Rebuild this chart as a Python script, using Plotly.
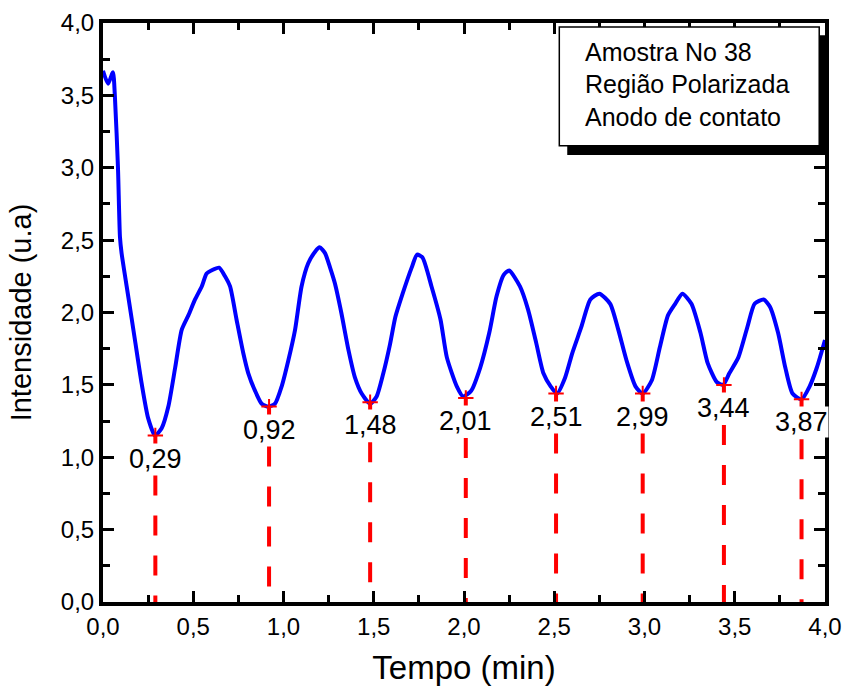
import plotly.graph_objects as go

# Blue intensity curve
tempo = [0.0, 0.028, 0.055, 0.066, 0.083, 0.094, 0.103, 0.14, 0.177, 0.214, 0.25, 0.288,
         0.325, 0.362, 0.40, 0.436, 0.473, 0.51, 0.547, 0.574, 0.60, 0.643, 0.676, 0.704,
         0.74, 0.777, 0.805, 0.842, 0.879, 0.916, 0.953, 0.99, 1.027, 1.064, 1.10, 1.137,
         1.175, 1.20, 1.23, 1.258, 1.285, 1.32, 1.36, 1.396, 1.433, 1.48, 1.516, 1.553,
         1.59, 1.62, 1.66, 1.71, 1.74, 1.77, 1.82, 1.87, 1.905, 1.96, 1.995, 2.04, 2.09,
         2.14, 2.18, 2.22, 2.25, 2.31, 2.355, 2.40, 2.44, 2.48, 2.515, 2.56, 2.60, 2.65,
         2.70, 2.75, 2.81, 2.855, 2.90, 2.95, 2.99, 3.04, 3.085, 3.13, 3.17, 3.21, 3.26,
         3.31, 3.35, 3.40, 3.435, 3.47, 3.52, 3.57, 3.61, 3.66, 3.695, 3.74, 3.78, 3.82,
         3.87, 3.915, 3.955, 4.0]
intensidade = [3.67, 3.58, 3.66, 3.49, 3.0, 2.52, 2.41, 2.11, 1.81, 1.51, 1.27, 1.15,
               1.20, 1.35, 1.62, 1.88, 1.98, 2.09, 2.18, 2.27, 2.29, 2.31, 2.25, 2.18,
               1.95, 1.72, 1.58, 1.46, 1.37, 1.35, 1.37, 1.49, 1.67, 1.88, 2.18, 2.34,
               2.42, 2.45, 2.41, 2.31, 2.20, 2.00, 1.74, 1.55, 1.44, 1.37, 1.42, 1.58,
               1.78, 1.97, 2.13, 2.31, 2.40, 2.38, 2.18, 1.95, 1.69, 1.49, 1.42, 1.46, 1.62,
               1.86, 2.11, 2.26, 2.29, 2.18, 2.02, 1.79, 1.58, 1.49, 1.44, 1.55, 1.72, 1.90,
               2.09, 2.13, 2.06, 1.88, 1.67, 1.49, 1.44, 1.53, 1.76, 1.98, 2.06, 2.13, 2.06,
               1.86, 1.65, 1.52, 1.50, 1.58, 1.69, 1.90, 2.06, 2.09, 2.04, 1.86, 1.62, 1.44,
               1.40, 1.49, 1.62, 1.81]

# Minima marked with red dashed lines
min_tempo = [0.29, 0.92, 1.48, 2.01, 2.51, 2.99, 3.44, 3.87]
min_intens = [1.15, 1.35, 1.38, 1.41, 1.44, 1.44, 1.50, 1.40]
min_labels = ["0,29", "0,92", "1,48", "2,01", "2,51", "2,99", "3,44", "3,87"]

legend_lines = ["Amostra No 38", "Região Polarizada", "Anodo de contato"]

FONT = "Arial, Liberation Sans, sans-serif"

fig = go.Figure()
fig.add_trace(go.Scatter(x=tempo, y=intensidade, mode="lines",
                         line=dict(color="#0000ff", width=4, shape="spline", smoothing=0.6),
                         showlegend=False))

for xm, ym in zip(min_tempo, min_intens):
    fig.add_trace(go.Scatter(x=[xm, xm], y=[ym, 0], mode="lines",
                             line=dict(color="#ff0000", width=4, dash="20px,20px"),
                             showlegend=False))
fig.add_trace(go.Scatter(x=min_tempo, y=min_intens, mode="markers",
                         marker=dict(symbol="cross-thin", size=11,
                                     line=dict(color="#ff0000", width=2)),
                         showlegend=False))

for xm, ym, lab in zip(min_tempo, min_intens, min_labels):
    fig.add_annotation(x=xm, y=ym, text=lab, showarrow=False, yshift=-23,
                       yanchor="middle", xanchor="center", bgcolor="white", borderpad=0,
                       font=dict(family=FONT, size=27, color="black"))

# legend-like box with shadow
fig.add_shape(type="rect", xref="paper", yref="paper", x0=0.643, x1=1.003, y0=0.772, y1=0.979,
              fillcolor="black", line=dict(width=0), layer="above")
fig.add_shape(type="rect", xref="paper", yref="paper", x0=0.632, x1=0.992, y0=0.788, y1=0.993,
              fillcolor="white", line=dict(color="black", width=1.5), layer="above")
for i, t in enumerate(legend_lines):
    fig.add_annotation(xref="paper", yref="paper", x=0.665, y=0.950 - i * 0.056, text=t,
                       showarrow=False, xanchor="left", yanchor="middle",
                       font=dict(family=FONT, size=25, color="black"))

axis_common = dict(
    range=[0, 4], dtick=0.5, tickformat=".1f", showgrid=False, zeroline=False,
    showline=True, linecolor="black", linewidth=4, mirror="allticks", automargin=False,
    ticks="inside", ticklen=11, tickwidth=3, tickcolor="black",
    minor=dict(dtick=0.25, ticks="inside", ticklen=7, tickwidth=3, tickcolor="black"),
    tickfont=dict(family=FONT, size=24, color="black"),
)

fig.update_layout(
    width=843, height=696, separators=",.",
    margin=dict(l=103, r=18, t=23, b=94),
    plot_bgcolor="white", paper_bgcolor="white",
    xaxis=dict(**axis_common, title=dict(text="Tempo (min)", standoff=18,
                                         font=dict(family=FONT, size=33, color="black"))),
    yaxis=dict(**axis_common, title=dict(text="Intensidade (u.a)", standoff=22,
                                         font=dict(family=FONT, size=29, color="black"))),
)

fig.write_html("out.html", config={"displayModeBar": False},
               post_script="document.body.style.margin='0';document.body.style.overflow='hidden';")
